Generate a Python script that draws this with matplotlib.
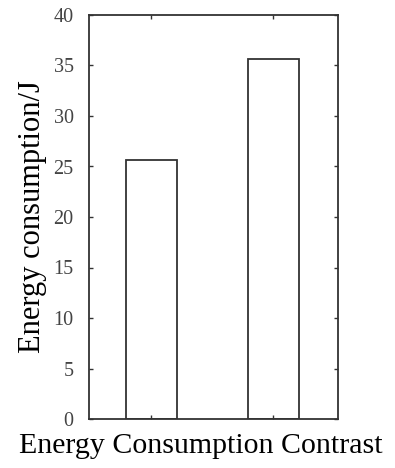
import matplotlib
matplotlib.use("Agg")
import matplotlib.pyplot as plt

categories = [1, 2]
values = [25.6, 35.6]
yticks = [0, 5, 10, 15, 20, 25, 30, 35, 40]

plt.rcParams['font.family'] = ['Liberation Serif', 'DejaVu Serif']

fig = plt.figure(figsize=(3.95, 4.68), dpi=100)
ax = fig.add_axes([89/395, 1-419/468, (338-89)/395, (419-15)/468])
ax.bar(categories, values, width=0.42, facecolor='white', edgecolor='#333333', linewidth=1.3)
ax.set_xlim(0.49, 2.53)
ax.set_ylim(0, 40)
ax.set_yticks(yticks)
ax.set_xticks(categories)
ax.set_xticklabels([])
ax.tick_params(direction='in', top=True, right=True, length=3, width=1, color='#333333',
               labelsize=14.5, labelcolor='#444444', pad=11)
for s in ax.spines.values():
    s.set_linewidth(1.3)
    s.set_color('#333333')
ax.set_xlabel('Energy Consumption Contrast', fontsize=21.5)
ax.xaxis.set_label_coords((201-89)/249, -0.035)
ax.xaxis.label.set_va('top')
ax.set_ylabel('Energy consumption/J', fontsize=22, labelpad=5)
fig.savefig('out.png', dpi=100)
